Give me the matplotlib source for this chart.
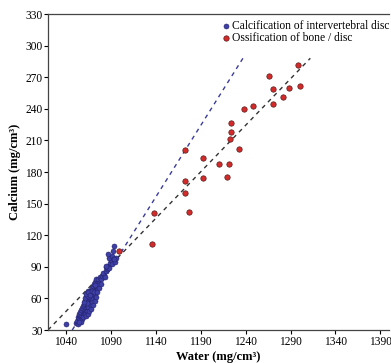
import matplotlib
matplotlib.use('Agg')
from matplotlib import pyplot as plt
import numpy as np

plt.rcParams['font.family'] = ['Liberation Serif', 'DejaVu Serif']

# calcification of intervertebral disc (water, calcium)
disc_water = [1040, 1051, 1052, 1053, 1054, 1053, 1055, 1056, 1055, 1057, 1058, 1056, 1059, 1057, 1060,
              1058, 1061, 1059, 1061, 1062, 1060, 1063, 1062, 1064, 1061, 1063, 1065, 1064, 1066, 1062,
              1065, 1067, 1063, 1066, 1068, 1064, 1067, 1069, 1065, 1068, 1070, 1066, 1067, 1068, 1069,
              1070, 1071, 1069, 1071, 1072, 1070, 1073, 1071, 1074, 1072, 1075, 1073, 1076, 1077, 1078,
              1079, 1080, 1082, 1081, 1083, 1084, 1086, 1085, 1087, 1088, 1089, 1090, 1091, 1088, 1091,
              1093, 1095, 1096, 1093, 1092, 1058, 1060, 1062, 1064, 1066, 1059, 1057, 1054, 1061, 1063,
              1065, 1067, 1069, 1070, 1068, 1066, 1063, 1060, 1061, 1064, 1062, 1065, 1067, 1069, 1072,
              1073, 1074, 1071, 1075, 1076, 1072, 1062, 1064, 1066, 1068, 1070, 1072, 1073, 1075, 1077,
              1079, 1085, 1087, 1094]
disc_calcium = [36, 37, 39, 36, 40, 42, 41, 43, 45, 44, 46, 47, 48, 49, 50,
                51, 49, 53, 52, 54, 55, 51, 57, 55, 58, 59, 57, 60, 58, 61,
                62, 60, 63, 64, 62, 65, 66, 64, 67, 68, 66, 55, 53, 56, 58,
                60, 62, 70, 68, 70, 72, 72, 74, 74, 76, 76, 78, 78, 75, 80,
                78, 81, 82, 84, 80, 86, 88, 90, 91, 89, 94, 96, 93, 98, 100,
                97, 95, 98, 110, 105, 40, 44, 47, 50, 52, 42, 38, 38, 45, 48,
                52, 55, 57, 63, 60, 61, 56, 57, 60, 62, 64, 66, 63, 67, 64,
                67, 70, 66, 72, 73, 73, 43, 45, 48, 50, 54, 58, 61, 66, 70,
                74, 91, 102, 97]

# ossification of bone / disc
bone_water = [1298, 1266, 1270, 1288, 1301, 1282, 1270, 1238, 1248, 1224, 1224, 1223, 1233,
              1193, 1210, 1221, 1193, 1219, 1172, 1173, 1172, 1177, 1138, 1136, 1099]
bone_calcium = [282, 271, 259, 260, 262, 251, 245, 240, 243, 227, 218, 211, 202,
                193, 188, 188, 174, 175, 201, 171, 160, 142, 141, 112, 105]

# dashed fit lines (end points)
disc_fit_water = [1047, 1237]
disc_fit_calcium = [30, 288]
bone_fit_water = [1020, 1312]
bone_fit_calcium = [30, 288]

fig = plt.figure(figsize=(3.91, 3.63), dpi=100)
ax = fig.add_axes([0.1228, 0.0909, 0.873, 0.8705])

ax.plot(disc_fit_water, disc_fit_calcium, ls=(0, (3, 3)), color='#3b3b9c', lw=1.0, zorder=1)
ax.plot(bone_fit_water, bone_fit_calcium, ls=(0, (3, 3)), color='#333333', lw=1.0, zorder=1)

ax.scatter(disc_water, disc_calcium, s=13, color='#3f3fa8', edgecolors='#22226a', linewidths=0.4,
           label='Calcification of intervertebral disc', zorder=3)
ax.scatter(bone_water, bone_calcium, s=15, color='#d42a2a', edgecolors='#5a1a1a', linewidths=0.5,
           label='Ossification of bone / disc', zorder=3)

ax.set_xlim(1020, 1400)
ax.set_ylim(30, 330)
ax.set_xticks(np.arange(1040, 1391, 50))
ax.set_yticks(np.arange(30, 331, 30))
ax.tick_params(direction='out', length=3, width=0.8, labelsize=8.3, pad=1)
ax.spines['right'].set_visible(False)
for s in ['left', 'bottom', 'top']:
    ax.spines[s].set_linewidth(0.9)
    ax.spines[s].set_color('#444444')

ax.set_xlabel('Water (mg/cm³)', fontsize=9, fontweight='bold', va='bottom')
ax.set_ylabel('Calcium (mg/cm³)', fontsize=9, fontweight='bold', va='center')
ax.xaxis.set_label_coords(0.5, -0.104)
ax.yaxis.set_label_coords(-0.097, 0.5)

ax.legend(loc='upper left', bbox_to_anchor=(0.545, 0.965), bbox_transform=fig.transFigure,
          frameon=False, fontsize=8.3, handletextpad=0.0, borderpad=0.1, labelspacing=0.05,
          handlelength=1.0, markerscale=1.0)

fig.savefig('out.png', dpi=100)
